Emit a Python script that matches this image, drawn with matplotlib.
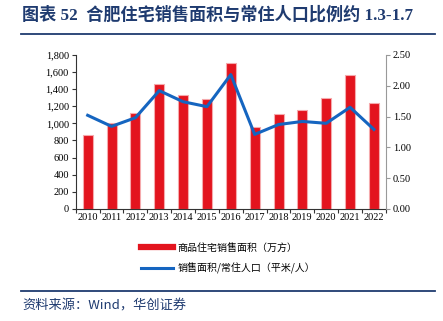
import numpy as np
import matplotlib
matplotlib.use('Agg')
import matplotlib.pyplot as plt
from matplotlib.lines import Line2D
from matplotlib.ticker import FuncFormatter

years = ['2010', '2011', '2012', '2013', '2014', '2015', '2016',
         '2017', '2018', '2019', '2020', '2021', '2022']
area = [865, 1005, 1122, 1457, 1329, 1286, 1710, 958, 1106, 1157, 1297, 1566, 1243]
ratio = [1.52, 1.34, 1.48, 1.92, 1.74, 1.66, 2.18, 1.21, 1.37, 1.42, 1.39, 1.65, 1.29]

bar_label = '商品住宅销售面积（万方）'
line_label = '销售面积/常住人口（平米/人）'
title = '图表 52  合肥住宅销售面积与常住人口比例约 1.3-1.7'
source = '资料来源：Wind，华创证券'

CJK = ['Noto Sans CJK SC', 'DejaVu Sans']
SERIF = ['Liberation Serif', 'Noto Sans CJK SC']
RED = '#E3141E'
BLUE = '#1565C0'
NAVY = '#1F3B70'

plt.rcParams['font.family'] = SERIF
fig = plt.figure(figsize=(4.43, 3.21), dpi=100)

# title + rules
fig.text(0.05, 0.953, title, family=['Liberation Serif', 'Noto Sans CJK SC'],
         fontsize=12.3, fontweight='bold', color=NAVY, va='center', ha='left')
fig.add_artist(Line2D([0.048, 0.982], [0.894, 0.894], color=NAVY, lw=1.3))
fig.add_artist(Line2D([0.048, 0.982], [0.093, 0.093], color=NAVY, lw=1.3))
fig.text(0.05, 0.048, source, family=CJK, fontsize=9.5, color=NAVY,
         style='italic', va='center', ha='left')

ax = fig.add_axes([0.171, 0.349, 0.700, 0.480])
x = np.arange(len(years))
ax.bar(x, area, width=0.42, color=RED, edgecolor='#F5A9AC', linewidth=0.8, zorder=2)
ax.set_xlim(-0.5, len(years) - 0.5)
ax.set_ylim(0, 1800)
ax.set_yticks(np.arange(0, 1801, 200))
ax.yaxis.set_major_formatter(FuncFormatter(lambda v, p: f'{int(v):,}'))
ax.set_xticks(x)
ax.set_xticklabels(years)
ax.set_xticks(np.arange(-0.5, len(years), 1), minor=True)
ax.tick_params(axis='x', which='major', length=0, labelsize=7.5, pad=3)
ax.tick_params(axis='x', which='minor', length=3, width=0.8, color='#333333', direction='out')
ax.tick_params(axis='y', labelsize=7.5, length=3, width=0.8, color='#333333', pad=2)
for s in ['top', 'right']:
    ax.spines[s].set_visible(False)
ax.spines['left'].set_color('#333333')
ax.spines['bottom'].set_color('#333333')
ax.spines['left'].set_linewidth(0.8)
ax.spines['bottom'].set_linewidth(0.8)

ax2 = ax.twinx()
ax2.plot(x, ratio, color=BLUE, lw=2.2, zorder=3)
ax2.set_ylim(0, 2.5)
ax2.set_yticks(np.arange(0, 2.51, 0.5))
ax2.yaxis.set_major_formatter(FuncFormatter(lambda v, p: f'{v:.2f}'))
ax2.tick_params(axis='y', labelsize=7.5, length=3, width=0.8, color='#999999', pad=2)
for s in ['top', 'left', 'bottom']:
    ax2.spines[s].set_visible(False)
ax2.spines['right'].set_color('#999999')
ax2.spines['right'].set_linewidth(0.8)

# legend
handles = [Line2D([], [], color=RED, lw=4.5), Line2D([], [], color=BLUE, lw=2.2)]
leg = fig.legend(handles, [bar_label, line_label], loc='center',
                 bbox_to_anchor=(0.515, 0.195), ncol=1, frameon=False,
                 prop={'family': CJK, 'size': 7.2}, handlelength=3.2,
                 labelspacing=0.95, handletextpad=0.4)

fig.savefig('out.png', dpi=100)
